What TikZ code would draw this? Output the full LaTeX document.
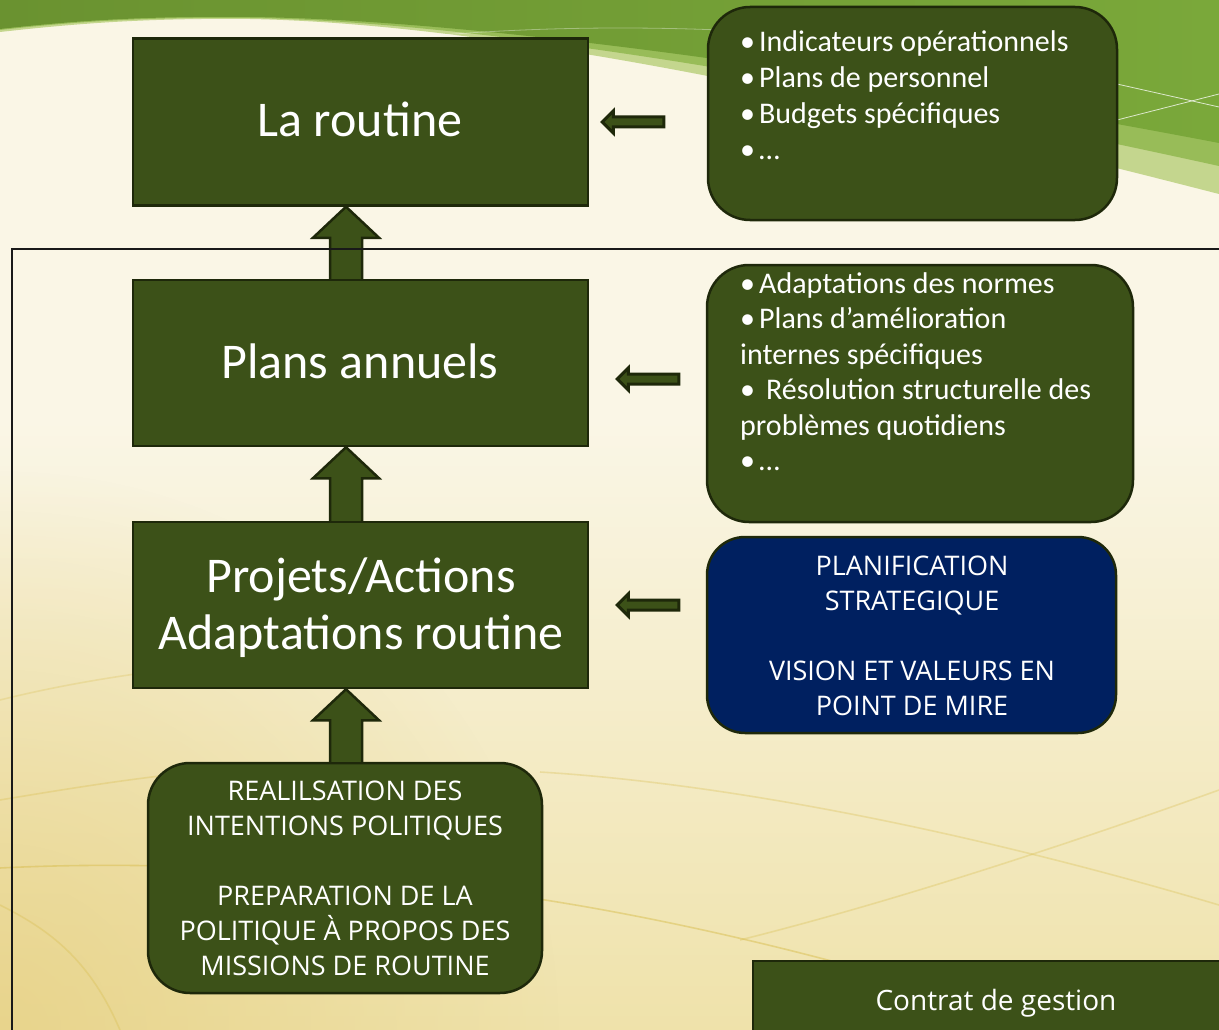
\documentclass[tikz,border=0pt]{standalone}
\usepackage{fontspec}
\setmainfont{Carlito}
\newfontfamily\osans{Open Sans}
\usetikzlibrary{calc,fadings}
\definecolor{cream}{RGB}{250,246,230}
\definecolor{creamlow}{RGB}{239,226,170}
\definecolor{creamleft}{RGB}{230,208,130}
\definecolor{boxgreen}{RGB}{60,81,24}
\definecolor{edge}{RGB}{30,40,10}
\definecolor{navy}{RGB}{0,32,96}
\definecolor{gdarkL}{RGB}{106,146,48}
\definecolor{gdarkR}{RGB}{122,168,58}
\definecolor{gmid}{RGB}{152,188,88}
\definecolor{glight}{RGB}{196,214,142}
\definecolor{gold}{RGB}{214,186,70}

\tikzfading[name=glow, inner color=transparent!25, outer color=transparent!100]

\tikzset{
  gbox/.style={draw=edge, line width=2.5pt, fill=boxgreen, inner sep=0pt},
  rbox/.style={gbox, rounded corners=42pt},
  nbox/.style={rbox, fill=navy, rounded corners=38pt},
  bigtext/.style={text=white, font=\fontsize{50}{57}\selectfont, inner sep=0pt, anchor=base},
  blt/.style={text=white, font=\fontsize{30}{36}\selectfont, inner sep=0pt, anchor=base west},
  caps/.style={text=white, font=\osans\fontsize{27}{35}\selectfont, inner sep=0pt, anchor=base},
  blk/.style={draw=edge, line width=2.5pt, fill=boxgreen, line join=miter},
  lblk/.style={draw=edge, line width=3pt, fill=boxgreen, line join=miter},
  faint/.style={draw=gold, line width=1.6pt, opacity=0.45},
}
\newcommand\blockup[2]{%
  \draw[blk] let \p1=(#1), \p2=(#2) in
    (\x1-16pt,\y1) -- (\x1-16pt,\y2-31pt) -- (\x1-33pt,\y2-31pt) -- (\x2,\y2)
    -- (\x1+33pt,\y2-31pt) -- (\x1+16pt,\y2-31pt) -- (\x1+16pt,\y1);
}
\newcommand\blockleft[2]{%
  \draw[lblk] let \p1=(#1), \p2=(#2) in
    (\x1,\y1) -- (\x1+11pt,\y1+11pt) -- (\x1+11pt,\y1+5pt) -- (\x2,\y1+5pt)
    -- (\x2,\y1-5pt) -- (\x1+11pt,\y1-5pt) -- (\x1+11pt,\y1-11pt) -- cycle;
}

\begin{document}
\begin{tikzpicture}[x=1pt,y=-1pt]
\useasboundingbox (0,0) rectangle (1219,1030);
\clip (0,0) rectangle (1219,1030);

% background
\fill[cream] (0,0) rectangle (1219,1030);
\shade[top color=cream, bottom color=creamlow] (0,420) rectangle (1219,1031);
\fill[creamleft, path fading=glow] (0,1030) circle (560);

% green swoosh
\fill[glight] (0,0) -- (0,32) .. controls (80,23) and (150,18) .. (250,19)
   .. controls (520,24) and (900,112) .. (1219,194) -- (1219,0) -- cycle;
\fill[gmid] (0,0) -- (0,30) .. controls (80,21) and (150,17) .. (250,18)
   .. controls (510,22) and (900,96) .. (1219,166) -- (1219,0) -- cycle;
\shade[left color=gdarkL, right color=gdarkR] (0,0) -- (0,29) .. controls (80,20) and (150,16) .. (250,17)
   .. controls (500,20) and (900,82) .. (1219,143) -- (1219,0) -- cycle;
\draw[white, opacity=0.75, line width=0.8pt] (1117,84) -- (1219,107);
\draw[white, opacity=0.75, line width=0.8pt] (1117,120) -- (1219,94);
\draw[white, opacity=0.35, line width=0.8pt] (430,36) .. controls (520,28) and (620,26) .. (720,30);

% faint background curves
\path[faint] (0,868) .. controls (200,858) and (400,878) .. (545,900)
   .. controls (660,918) and (790,948) .. (900,980);
\path[faint, opacity=0.3] (0,800) .. controls (60,790) and (110,782) .. (160,776);
\path[faint, opacity=0.3] (540,772) .. controls (750,785) and (1000,840) .. (1219,905);
\path[faint, opacity=0.3] (740,940) .. controls (900,900) and (1080,840) .. (1219,790);
\path[faint, opacity=0.3] (0,905) .. controls (50,930) and (90,960) .. (120,1030);
\path[faint, opacity=0.25] (0,700) .. controls (40,690) and (90,680) .. (150,672);

% boxes
\node[gbox, minimum width=455, minimum height=167] (rout) at (360.5,122) {};
\node[gbox, minimum width=455, minimum height=166] (plans) at (360.5,363) {};
\node[gbox, minimum width=455, minimum height=166] (proj) at (360.5,605) {};
\node[rbox, minimum width=409, minimum height=213] (r1) at (912.5,113.5) {};
\node[rbox, minimum width=426, minimum height=257] (r2) at (920,393.5) {};
\node[nbox, minimum width=409, minimum height=196] (nav) at (911.5,635) {};
\node[rbox, minimum width=394, minimum height=230] (pol) at (345,878) {};
\node[gbox, minimum width=507, minimum height=99] (contrat) at (1006.5,1010.5) {};

% upward block arrows
\blockup{$(plans.north)+(-14.5,0)$}{$(rout.south)+(-14.5,0)$}
\blockup{$(proj.north)+(-14.5,0)$}{$(plans.south)+(-14.5,0)$}
\blockup{$(pol.north)+(1,0)$}{$(proj.south)+(-14.5,0)$}

% large frame
\draw[black!90, line width=2pt] (1240,249) -- (12,249) -- (12,1050);

% left block arrows
\blockleft{$(rout.east)+(13,0)$}{$(r1.west)+(-43,0)$}
\blockleft{$(plans.east)+(28,16)$}{$(r2.west)+(-27,0)$}
\blockleft{$(proj.east)+(28,0)$}{$(nav.west)+(-27,0)$}

% texts
\node[bigtext] (trout) at (360,137) {La routine};
\node[bigtext] (tplans) at (360,378) {Plans annuels};
\node[bigtext] (tproj1) at (361,592) {Projets/Actions};
\node[bigtext] (tproj2) at (361,649) {Adaptations routine};

\node[blt] (ra) at (740,52) {•\hspace{4pt}Indicateurs opérationnels};
\node[blt] (rb) at (740,88) {•\hspace{4pt}Plans de personnel};
\node[blt] (rc) at (740,124) {•\hspace{4pt}Budgets spécifiques};
\node[blt] (rd) at (740,160) {•\hspace{4pt}…};

\node[blt] (sa) at (740,293) {•\hspace{4pt}Adaptations des normes};
\node[blt] (sb) at (740,328.5) {•\hspace{4pt}Plans d’amélioration};
\node[blt] (sc) at (740,364) {internes spécifiques};
\node[blt] (sd) at (740,399.5) {•\hspace{11pt}Résolution structurelle des};
\node[blt] (se) at (740,435) {problèmes quotidiens};
\node[blt] (sf) at (740,470.5) {•\hspace{4pt}…};

\node[caps] (na) at (912,575) {PLANIFICATION};
\node[caps] (nb) at (912,610) {STRATEGIQUE};
\node[caps] (nc) at (912,680) {VISION ET VALEURS EN};
\node[caps] (nd) at (912,715) {POINT DE MIRE};

\node[caps] (pa) at (345,800) {REALILSATION DES};
\node[caps] (pb) at (345,835) {INTENTIONS POLITIQUES};
\node[caps] (pc) at (345,905) {PREPARATION DE LA};
\node[caps] (pd) at (345,940) {POLITIQUE À PROPOS DES};
\node[caps] (pe) at (345,975) {MISSIONS DE ROUTINE};

\node[caps, font=\osans\fontsize{28}{34}\selectfont] (tcontrat) at (996,1010) {Contrat de gestion};
\end{tikzpicture}
\end{document}
